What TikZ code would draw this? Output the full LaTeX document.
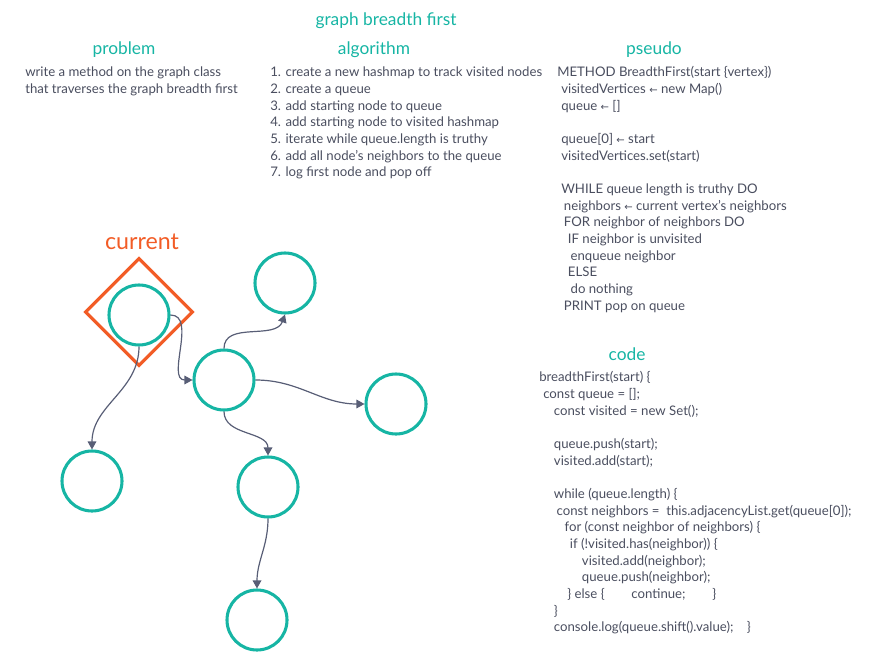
\documentclass[tikz,border=0pt]{standalone}
\usepackage{fontspec}
\setmainfont{Lato}
\newfontfamily\symfont{DejaVu Sans}
\usetikzlibrary{arrows.meta,positioning,shapes.geometric}

\definecolor{bfsteal}{RGB}{22,181,164}
\definecolor{bfsorange}{RGB}{242,92,38}
\definecolor{edgegray}{RGB}{88,94,118}
\definecolor{textgray}{RGB}{74,78,95}

\newcommand{\getsarrow}{{\symfont\fontsize{7.5}{7.5}\selectfont ←}}

\tikzset{
    vertex/.style={circle, draw=bfsteal, line width=2.3pt, minimum size=45pt, inner sep=0pt},
    link/.style={draw=edgegray, line width=0.9pt, -{Triangle[length=6pt,width=6.5pt]}},
    heading/.style={text=bfsteal, font=\fontsize{13}{15}\selectfont, inner sep=0pt},
    body/.style={text=textgray, font=\fontsize{9.9}{12.5}\selectfont, align=left, anchor=north west, inner sep=0pt},
}

\begin{document}
\begin{tikzpicture}[x=0.75pt, y=-0.75pt]

    \useasboundingbox (0,0) rectangle (887,666);

    % Headings
    \node[heading] (title) at (386,21) {graph breadth first};
    \node[heading] (problemhead) at (124,50) {problem};
    \node[heading] (algohead) at (374,50) {algorithm};
    \node[heading] (pseudohead) at (654,50) {pseudo};
    \node[heading] (codehead) at (627,354) {code};

    % Problem
    \node[body] (problem) at (25,65) {\strut write a method on the graph class\\
        that traverses the graph breadth first};

    % Algorithm
    \node[body] (algo) at (270,65) {\strut 1. create a new hashmap to track visited nodes\\
        2. create a queue\\
        3. add starting node to queue\\
        4. add starting node to visited hashmap\\
        5. iterate while queue.length is truthy\\
        6. add all node's neighbors to the queue\\
        7. log first node and pop off};

    % Pseudo
    \node[body] (pseudo) at (557,65) {\strut METHOD BreadthFirst(start \{vertex\})\\
        \hspace*{3pt}visitedVertices \getsarrow{} new Map()\\
        \hspace*{3pt}queue \getsarrow{} []\\
        ~\\
        \hspace*{3pt}queue[0] \getsarrow{} start\\
        \hspace*{3pt}visitedVertices.set(start)\\
        ~\\
        \hspace*{3pt}WHILE queue length is truthy DO\\
        \hspace*{5pt}neighbors \getsarrow{} current vertex's neighbors\\
        \hspace*{5pt}FOR neighbor of neighbors DO\\
        \hspace*{8pt}IF neighbor is unvisited\\
        \hspace*{10pt}enqueue neighbor\\
        \hspace*{8pt}ELSE\\
        \hspace*{10pt}do nothing\\
        \hspace*{5pt}PRINT pop on queue};

    % Code
    \node[body] (code) at (539,370) {\strut breadthFirst(start) \{\\
        \hspace*{3pt}const queue = [];\\
        \hspace*{11pt}const visited = new Set();\\
        ~\\
        \hspace*{11pt}queue.push(start);\\
        \hspace*{11pt}visited.add(start);\\
        ~\\
        \hspace*{11pt}while (queue.length) \{\\
        \hspace*{13pt}const neighbors = \ this.adjacencyList.get(queue[0]);\\
        \hspace*{19pt}for (const neighbor of neighbors) \{\\
        \hspace*{23pt}if (!visited.has(neighbor)) \{\\
        \hspace*{32pt}visited.add(neighbor);\\
        \hspace*{32pt}queue.push(neighbor);\\
        \hspace*{21pt}\} else \{\hspace*{20pt}continue;\hspace*{20pt}\}\\
        \hspace*{11pt}\}\\
        \hspace*{11pt}console.log(queue.shift().value);\hspace*{10pt}\}};

    % Graph
    \node[diamond, draw=bfsorange, line width=2.3pt, minimum width=81pt, minimum height=81pt, inner sep=0pt] (currentbox) at (139,312) {};
    \node[text=bfsorange, font=\fontsize{17.4}{20}\selectfont, inner sep=0pt] (currentlabel) at (142,242) {current};

    \node[vertex] (start) at (139,315) {};
    \node[vertex] (hub) at (224,380) {};
    \node[vertex] (top) at (285,283) {};
    \node[vertex] (right) at (396,404) {};
    \node[vertex] (left) at (92,481) {};
    \node[vertex] (mid) at (268,487) {};
    \node[vertex] (bottom) at (257,620) {};

    \draw[link] (start.east) to[out=0, in=180] (hub.west);
    \draw[link] (start.south) to[out=-90, in=90] (left.north);
    \draw[link] (hub.north) to[out=90, in=-110] (top.south);
    \draw[link] (hub.east) to[out=0, in=180] (right.west);
    \draw[link] (hub.south) to[out=-90, in=90] (mid.north);
    \draw[link] (mid.south) to[out=-90, in=90] (bottom.north);

\end{tikzpicture}
\end{document}
